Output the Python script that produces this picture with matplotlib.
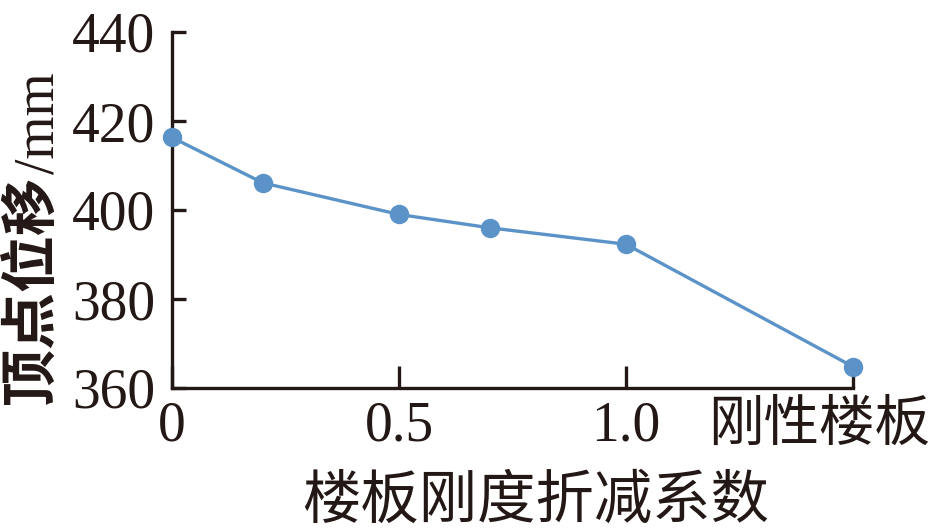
import matplotlib
matplotlib.use("Agg")
import matplotlib.pyplot as plt
import matplotlib.transforms as mtransforms

# Data
x_values = [0.0, 0.2, 0.5, 0.7, 1.0, 1.5]
displacement = [416.3, 406.1, 399.0, 396.0, 392.3, 364.8]
x_ticks = [0.0, 0.5, 1.0, 1.5]
x_tick_labels = ["0", "0.5", "1.0", "刚性楼板"]
y_ticks = [360, 380, 400, 420, 440]

serif = "Liberation Serif"
cjk = "Noto Sans CJK SC"
ink = "#231815"

fig = plt.figure(figsize=(9.4, 5.32), dpi=100)
ax = fig.add_axes([172/940, 1-388/532, (853-172)/940, (388-32)/532])

color = "#5B93C9"
ax.plot(x_values, displacement, color=color, lw=2.4, marker="o",
        markersize=14, markeredgewidth=0, clip_on=False, zorder=3)

ax.set_xlim(0, 1.5)
ax.set_ylim(360, 440)
for s in ["top", "right"]:
    ax.spines[s].set_visible(False)
for s in ["left", "bottom"]:
    ax.spines[s].set_linewidth(2.4)
    ax.spines[s].set_color(ink)

ax.set_yticks(y_ticks)
ax.set_yticklabels([str(v) for v in y_ticks], fontfamily=serif, fontsize=40, color=ink)
ax.tick_params(axis="y", direction="in", length=10, width=2.4, pad=12, colors=ink)

ax.set_xticks(x_ticks)
ax.set_xticklabels(x_tick_labels, fontsize=40, color=ink)
ax.tick_params(axis="x", direction="in", length=16, width=2.4, pad=9, colors=ink)
labels = ax.get_xticklabels()
for lab in labels[:3]:
    lab.set_fontfamily(serif)
labels[3].set_fontfamily(cjk)
labels[3].set_fontsize(40)
labels[3].set_transform(labels[3].get_transform() +
                        mtransforms.ScaledTranslation(-34/100, 4/100, fig.dpi_scale_trans))

fig.text(536/940, 1-501/532, "楼板刚度折减系数", fontfamily=cjk, fontsize=42,
         ha="center", va="center", color=ink)

fig.text(31/940, 1-404/532, "顶点位移", fontfamily=cjk, fontweight="bold", fontsize=41,
         rotation=90, ha="center", va="bottom", color=ink)
fig.text(39/940, 1-174/532, "/mm", fontfamily=serif, fontsize=40,
         rotation=90, ha="center", va="bottom", color=ink)

fig.savefig("out.png", dpi=100)
